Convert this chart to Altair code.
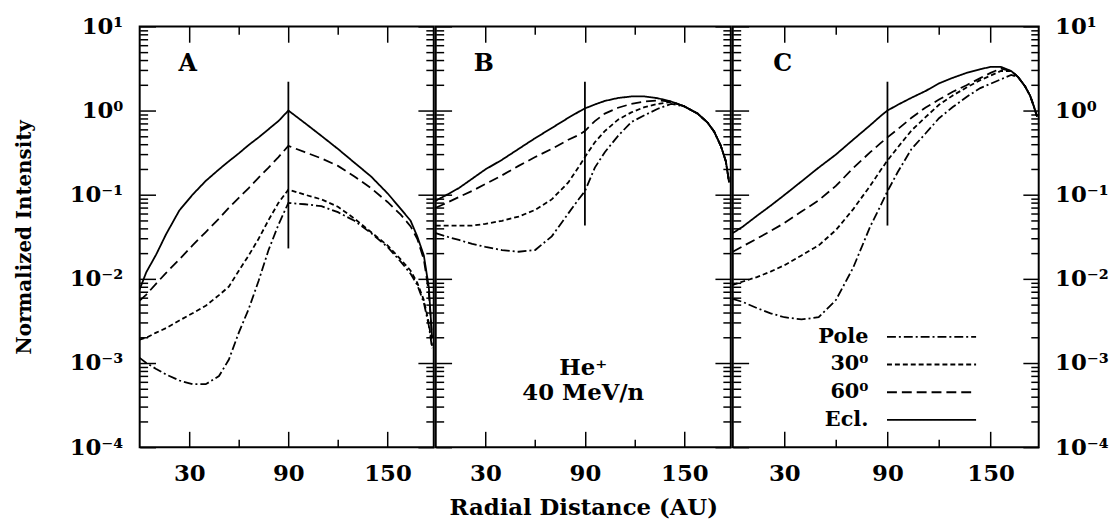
import altair as alt
import pandas as pd

FONT = "DejaVu Serif"

SERIES = ["Pole", "30⁰", "60⁰", "Ecl."]
DASHES = [[9, 3, 2, 3], [5, 3], [10, 5], [1, 0]]

# Panel A
A_X = [0, 4, 10, 16, 24, 32, 40, 48, 54, 60, 66, 72, 78, 84, 90, 100, 110, 120, 130, 140, 150, 158, 164, 168, 172, 175, 177]
A_POLE = [0.00115, 0.001, 0.00085, 0.00073, 0.00062, 0.00056, 0.00056, 0.0007, 0.0011, 0.0023, 0.0044, 0.0095, 0.022, 0.044, 0.08, 0.077, 0.073, 0.062, 0.049, 0.035, 0.024, 0.016, 0.0115, 0.0085, 0.0052, 0.0028, 0.0015]
A_30 = [0.0019, 0.002, 0.0023, 0.0026, 0.0032, 0.0039, 0.0048, 0.0064, 0.0081, 0.0125, 0.019, 0.03, 0.05, 0.08, 0.115, 0.1, 0.088, 0.072, 0.052, 0.036, 0.025, 0.017, 0.0125, 0.009, 0.0056, 0.003, 0.0016]
A_60 = [0.0055, 0.0065, 0.0088, 0.0118, 0.017, 0.025, 0.036, 0.052, 0.07, 0.092, 0.12, 0.16, 0.21, 0.28, 0.38, 0.32, 0.27, 0.22, 0.165, 0.12, 0.082, 0.058, 0.042, 0.03, 0.017, 0.007, 0.002]
A_ECL = [0.0075, 0.012, 0.0195, 0.034, 0.065, 0.10, 0.146, 0.20, 0.25, 0.31, 0.39, 0.48, 0.60, 0.75, 1.0, 0.71, 0.50, 0.35, 0.24, 0.165, 0.104, 0.068, 0.049, 0.032, 0.019, 0.008, 0.002]

# Panel B
B_X = [0, 6, 14, 22, 30, 40, 50, 60, 70, 80, 86, 90, 96, 102, 110, 118, 126, 134, 142, 150, 158, 164, 168, 172, 175, 177]
B_POLE = [0.035, 0.032, 0.029, 0.026, 0.024, 0.022, 0.021, 0.022, 0.032, 0.06, 0.087, 0.11, 0.21, 0.32, 0.50, 0.73, 0.88, 1.05, 1.2, 1.12, 0.92, 0.72, 0.56, 0.38, 0.25, 0.14]
B_30 = [0.043, 0.043, 0.043, 0.043, 0.045, 0.049, 0.055, 0.066, 0.088, 0.14, 0.21, 0.28, 0.42, 0.57, 0.78, 0.95, 1.1, 1.2, 1.27, 1.12, 0.92, 0.72, 0.56, 0.38, 0.25, 0.14]
B_60 = [0.07, 0.079, 0.094, 0.111, 0.134, 0.17, 0.22, 0.28, 0.35, 0.45, 0.51, 0.57, 0.75, 0.92, 1.08, 1.2, 1.28, 1.32, 1.28, 1.12, 0.92, 0.72, 0.56, 0.38, 0.25, 0.14]
B_ECL = [0.085, 0.098, 0.12, 0.155, 0.20, 0.26, 0.35, 0.47, 0.62, 0.82, 0.96, 1.06, 1.18, 1.3, 1.41, 1.47, 1.47, 1.40, 1.28, 1.12, 0.92, 0.72, 0.56, 0.38, 0.25, 0.14]

# Panel C
C_X = [0, 6, 14, 22, 30, 40, 50, 60, 70, 80, 86, 90, 96, 104, 112, 120, 128, 136, 144, 150, 156, 162, 166, 170, 173, 175, 177]
C_POLE = [0.0058, 0.0053, 0.0045, 0.0039, 0.0035, 0.0033, 0.0035, 0.0056, 0.0135, 0.042, 0.074, 0.11, 0.186, 0.35, 0.53, 0.81, 1.1, 1.45, 1.85, 2.08, 2.35, 2.65, 2.5, 1.95, 1.5, 1.15, 0.85]
C_30 = [0.0085, 0.0093, 0.0105, 0.0122, 0.0145, 0.019, 0.025, 0.038, 0.067, 0.128, 0.195, 0.255, 0.365, 0.58, 0.83, 1.17, 1.51, 1.88, 2.3, 2.6, 2.95, 2.95, 2.5, 1.95, 1.5, 1.15, 0.85]
C_60 = [0.021, 0.0245, 0.03, 0.037, 0.046, 0.063, 0.086, 0.127, 0.207, 0.32, 0.41, 0.48, 0.60, 0.82, 1.08, 1.35, 1.67, 2.0, 2.43, 2.8, 3.15, 2.95, 2.5, 1.95, 1.5, 1.15, 0.85]
C_ECL = [0.035, 0.042, 0.056, 0.074, 0.099, 0.144, 0.21, 0.30, 0.45, 0.67, 0.86, 1.0, 1.17, 1.42, 1.7, 2.1, 2.45, 2.8, 3.1, 3.3, 3.3, 2.95, 2.5, 1.95, 1.5, 1.15, 0.85]

PANEL_LETTERS = ["A", "B", "C"]
LETTER_X = 29
LETTER_Y = 3.6
RULE_X = 90
RULE_TOP = [2.2, 2.2, 2.2]
RULE_BOTTOM = [0.023, 0.043, 0.043]
NOTE_LINES = ["He⁺", "40 MeV/n"]
NOTE_X = 89
NOTE_Y = 0.00087

X_DOMAIN = [0, 178]
Y_DOMAIN = [1e-4, 10]
X_MAJOR = [30, 90, 150]
X_MINOR = [60, 120]
Y_EXP = [-4, -3, -2, -1, 0, 1]

SUP = str.maketrans("-0123456789", "⁻⁰¹²³⁴⁵⁶⁷⁸⁹")
Y_MAJOR = [10.0 ** e for e in Y_EXP]
Y_MINOR = [m * 10.0 ** e for e in Y_EXP[:-1] for m in range(2, 10)]
Y_LABELS = ["10" + str(e).translate(SUP) for e in Y_EXP]
LABEL_EXPR = "[" + ",".join("'" + s + "'" for s in Y_LABELS) + "][round(log(datum.value)/LN10)+" + str(-Y_EXP[0]) + "]"

XS = alt.Scale(domain=X_DOMAIN, nice=False, zero=False)
YS = alt.Scale(type="log", domain=Y_DOMAIN, nice=False)
DS = alt.Scale(domain=SERIES, range=DASHES)

WIDTHS = [297, 298, 309]
HEIGHT = 425
LW = 1.8


def y_axis(orient, major, labels=False, title=None):
    L = 16 if major else 8
    kw = dict(orient=orient, values=Y_MAJOR if major else Y_MINOR, offset=-L, tickSize=L,
              tickWidth=1.5, tickColor="black", domain=False, grid=False, labels=labels, title=title)
    if labels:
        kw.update(labelExpr=LABEL_EXPR, labelFont=FONT, labelFontSize=23, labelFontWeight="bold",
                  labelColor="black", labelPadding=17 if orient == "left" else 16)
    if title:
        kw.update(titleFont=FONT, titleFontSize=20, titleFontWeight="bold", titleColor="black",
                  titlePadding=35)
    return alt.Axis(**kw)


def x_axis(orient, major, labels=False, title=None):
    L = 16 if major else 8
    kw = dict(orient=orient, values=X_MAJOR if major else X_MINOR, offset=-L, tickSize=L,
              tickWidth=1.5, tickColor="black", domain=False, grid=False, labels=labels, title=title)
    if labels:
        kw.update(labelFont=FONT, labelFontSize=23, labelFontWeight="bold", labelColor="black",
                  labelPadding=16, labelFlush=False)
    if title:
        kw.update(titleFont=FONT, titleFontSize=23, titleFontWeight="bold", titleColor="black",
                  titlePadding=11)
    return alt.Axis(**kw)


def panel(i, xs, pole, s30, s60, ecl):
    rows = []
    for name, vals in zip(SERIES, [pole, s30, s60, ecl]):
        for x, y in zip(xs, vals):
            rows.append({"x": x, "y": y, "series": name})
    df = pd.DataFrame(rows)
    first = i == 0
    last = i == 2
    if last:
        legend = alt.Legend(orient="none", legendX=112, legendY=301, title=None, direction="vertical",
                            symbolType="M2.78,0H10.78", symbolSize=506, symbolStrokeWidth=LW,
                            symbolStrokeColor="black", symbolFillColor="transparent",
                            labelFont=FONT, labelFontSize=21, labelFontWeight="bold", labelColor="black",
                            labelAlign="right", labelOffset=0, rowPadding=5, padding=0)
    else:
        legend = None

    def lines(names, xa, ya):
        return alt.Chart(df[df.series.isin(names)]).mark_line(color="black", strokeWidth=LW, clip=True).encode(
            x=alt.X("x:Q", scale=XS, axis=xa),
            y=alt.Y("y:Q", scale=YS, axis=ya),
            strokeDash=alt.StrokeDash("series:N", scale=DS, legend=legend),
        )

    l1 = lines(SERIES[:2],
               x_axis("bottom", True, labels=True, title="Radial Distance (AU)" if i == 1 else None),
               y_axis("left", True, labels=first, title="Normalized Intensity" if first else None))
    l2 = lines(SERIES[2:], x_axis("top", True), y_axis("right", True, labels=last))

    rule_df = pd.DataFrame({"x": [RULE_X], "top": [RULE_TOP[i]], "bottom": [RULE_BOTTOM[i]]})
    l3 = alt.Chart(rule_df).mark_rule(color="black", strokeWidth=LW).encode(
        x=alt.X("x:Q", scale=XS, axis=x_axis("bottom", False)),
        y=alt.Y("top:Q", scale=YS, axis=y_axis("left", False)),
        y2="bottom:Q",
    )
    let_df = pd.DataFrame({"x": [LETTER_X], "y": [LETTER_Y], "t": [PANEL_LETTERS[i]]})
    l4 = alt.Chart(let_df).mark_text(font=FONT, fontSize=24, fontWeight="bold", color="black").encode(
        x=alt.X("x:Q", scale=XS, axis=x_axis("top", False)),
        y=alt.Y("y:Q", scale=YS, axis=y_axis("right", False)),
        text="t:N",
    )
    layers = [l1, l2, l3, l4]
    if i == 1:
        note_df = pd.DataFrame({"x": [NOTE_X], "y": [NOTE_Y]})
        layers.append(alt.Chart(note_df).mark_text(text=NOTE_LINES, font=FONT, fontSize=23, fontWeight="bold",
                                                   color="black", lineHeight=25).encode(
            x=alt.X("x:Q", scale=XS, axis=None),
            y=alt.Y("y:Q", scale=YS, axis=None),
        ))
    return alt.layer(*layers).resolve_scale(x="shared", y="shared").resolve_axis(
        x="independent", y="independent").properties(width=WIDTHS[i], height=HEIGHT)


pA = panel(0, A_X, A_POLE, A_30, A_60, A_ECL)
pB = panel(1, B_X, B_POLE, B_30, B_60, B_ECL)
pC = panel(2, C_X, C_POLE, C_30, C_60, C_ECL)

chart = alt.hconcat(pA, pB, pC, spacing=-2).resolve_scale(
    x="independent", y="independent", strokeDash="independent"
).resolve_axis(x="independent", y="independent").resolve_legend(strokeDash="independent").properties(
    padding={"left": 5, "top": 4, "right": 0, "bottom": 0}
).configure(font=FONT).configure_view(stroke="black", strokeWidth=2)

chart.save("out.html", embed_options={"renderer": "svg", "actions": False})
